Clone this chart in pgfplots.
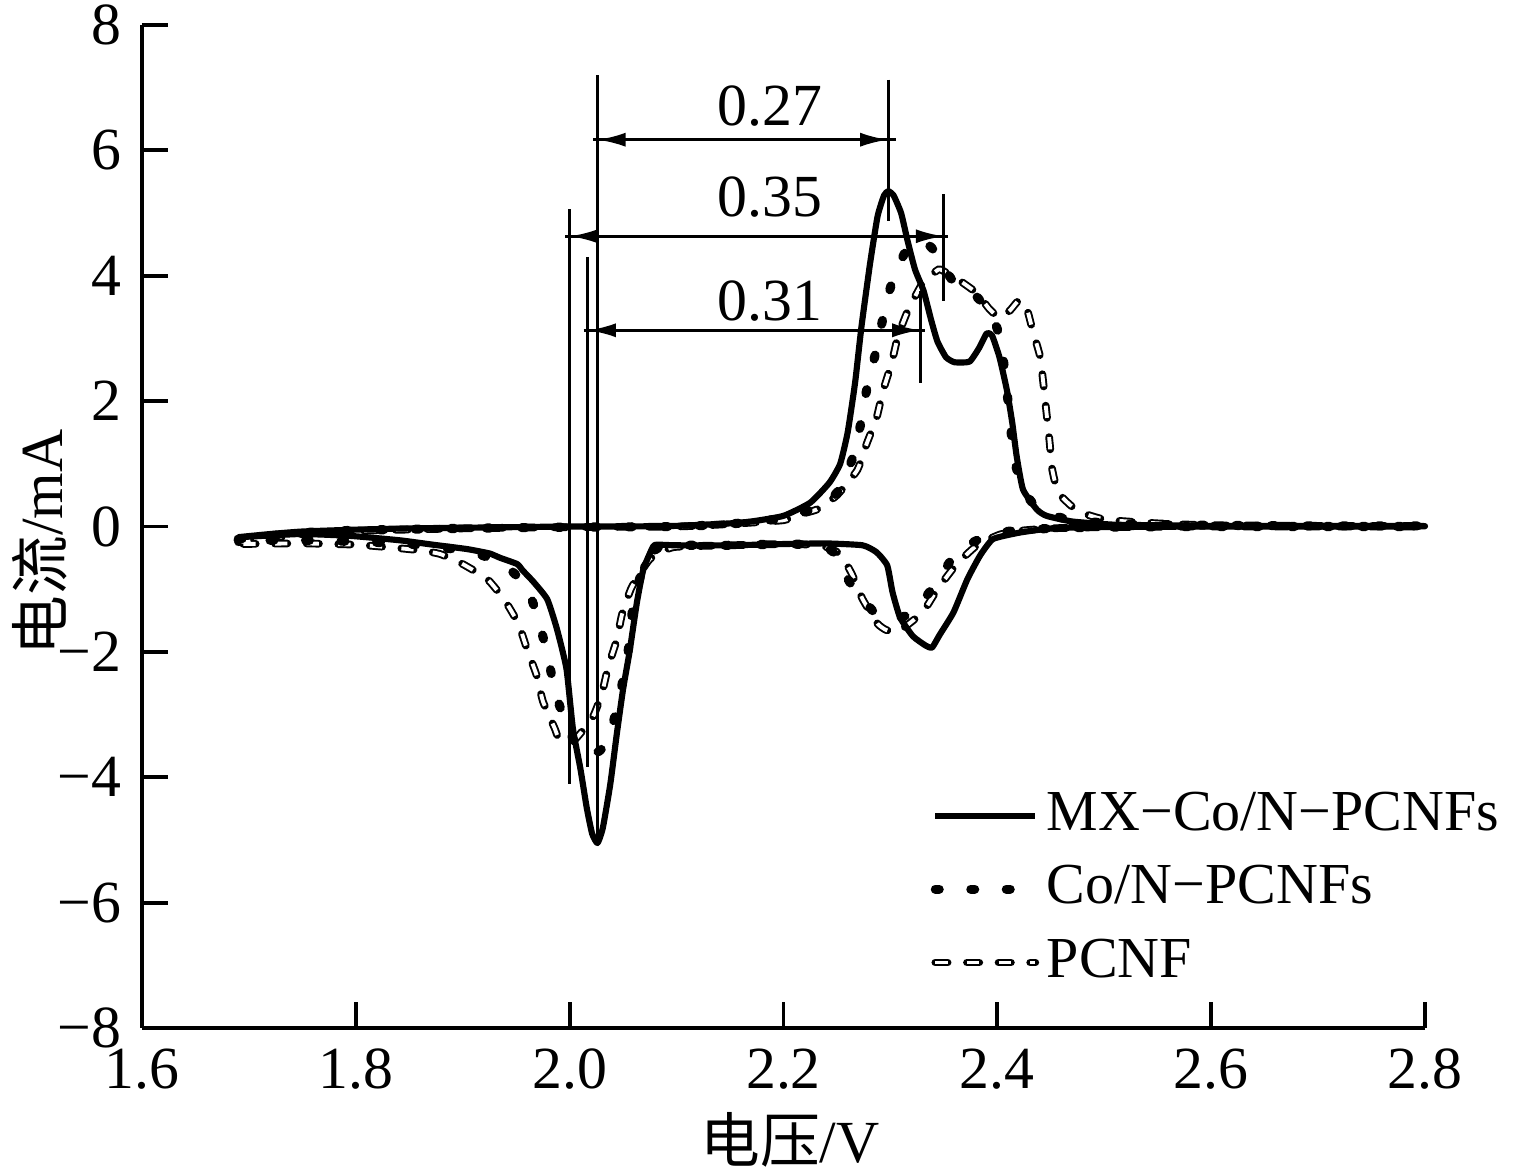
\documentclass[border=0pt]{standalone}
\usepackage{fontspec}
\setmainfont{Liberation Serif}
\newfontfamily\cjk{Noto Sans CJK SC}
\usepackage{pgfplots}
\pgfplotsset{compat=1.18}
\usetikzlibrary{arrows.meta}
\begin{document}
\fontsize{17pt}{20pt}\selectfont
\begin{tikzpicture}
\useasboundingbox (0,0) rectangle (15.35cm,11.75cm);
\begin{axis}[
  at={(1.42cm,1.47cm)}, anchor=south west,
  scale only axis, width=12.83cm, height=10.03cm,
  xmin=1.6, xmax=2.8, ymin=-8, ymax=8,
  axis x line*=bottom, axis y line*=left,
  axis line style={line width=1.1pt, -},
  tick style={line width=1.1pt, black},
  tick align=inside, major tick length=2.6mm,
  xtick={1.6,1.8,2.0,2.2,2.4,2.6,2.8},
  xticklabels={1.6,1.8,2.0,2.2,2.4,2.6,2.8},
  ytick={-8,-6,-4,-2,0,2,4,6,8},
  yticklabels={−8,−6,−4,−2,0,2,4,6,8},
  tick label style={font=\fontsize{17pt}{20pt}\selectfont},
  xlabel={{\cjk 电压}/V},
  ylabel={{\cjk 电流}/mA},
  label style={font=\fontsize{17pt}{20pt}\selectfont},
  xlabel style={at={(rel axis cs:0.505,-0.112)}, anchor=center},
  ylabel style={at={(rel axis cs:-0.0795,0.484)}, anchor=center},
  clip=false,
  reverse legend,
  legend image code/.code={\draw[#1] (0cm,0cm) -- (1.0cm,0cm);},
  legend style={at={(rel axis cs:0.606,0.25)}, anchor=north west, draw=none, fill=none,
    font=\fontsize{16.5pt}{20pt}\selectfont, row sep=1.2mm},
  legend cell align=left,
]
% PCNF (hollow dashes)
\addplot[smooth, tension=0.3, draw=white, line width=1.1pt, line cap=butt, dash pattern=on 3.5pt off 5.5pt,
  preaction={draw=black, line width=2.2pt, line cap=round, dash pattern=on 3.5pt off 5.5pt}]
 coordinates {
(1.69,-0.25)(1.75,-0.12)(1.8,-0.07)(1.9,-0.03)(2.0,-0.01)(2.1,0.0)(2.15,0.04)(2.2,0.1)
(2.209,0.17)(2.231,0.27)(2.25,0.5)(2.269,0.9)(2.278,1.33)(2.287,1.73)(2.293,2.16)(2.301,2.6)
(2.307,3.03)(2.316,3.43)(2.330,3.88)(2.345,4.1)(2.352,4.05)(2.365,3.92)(2.381,3.72)(2.392,3.48)
(2.402,3.33)(2.412,3.45)(2.421,3.62)(2.428,3.45)(2.433,3.13)(2.440,2.71)(2.443,2.29)(2.446,1.81)
(2.449,1.33)(2.451,0.94)(2.457,0.54)(2.475,0.25)(2.501,0.11)(2.55,0.05)(2.6,0.02)(2.7,0.01)(2.79,0.01)
(2.8,0.005)
(2.79,0.0)(2.7,0.0)(2.6,0.0)(2.5,-0.01)(2.45,-0.03)(2.42,-0.07)(2.402,-0.13)(2.381,-0.3)(2.362,-0.6)
(2.344,-1.0)(2.330,-1.37)(2.307,-1.68)(2.296,-1.65)(2.288,-1.55)(2.274,-1.16)(2.264,-0.76)
(2.253,-0.44)(2.235,-0.3)(2.20,-0.28)(2.15,-0.3)(2.097,-0.33)(2.075,-0.52)(2.058,-0.97)
(2.049,-1.40)(2.044,-1.81)(2.036,-2.24)(2.030,-2.67)(2.021,-3.06)(2.003,-3.43)(1.990,-3.38)
(1.986,-3.22)(1.975,-2.79)(1.969,-2.37)(1.960,-1.95)(1.952,-1.55)(1.939,-1.17)(1.923,-0.84)
(1.900,-0.6)(1.879,-0.44)(1.86,-0.38)(1.83,-0.33)(1.80,-0.29)(1.75,-0.27)(1.69,-0.28)
};
\addlegendentry{PCNF}
% Co/N-PCNFs (dots)
\addplot[smooth, tension=0.3, black, line width=2.6pt, line cap=round, dash pattern=on 1.1pt off 9pt]
 coordinates {
(1.69,-0.2)(1.75,-0.1)(1.8,-0.06)(1.9,-0.03)(2.0,-0.01)(2.1,0.0)(2.15,0.04)(2.2,0.13)
(2.225,0.27)(2.250,0.54)(2.264,1.06)(2.272,1.62)(2.278,2.2)(2.286,2.76)(2.293,3.32)(2.301,3.87)
(2.313,4.35)(2.322,4.52)(2.330,4.55)(2.340,4.42)(2.357,3.95)(2.375,3.76)(2.392,3.45)(2.400,3.15)
(2.405,2.75)(2.408,2.29)(2.412,1.7)(2.415,1.13)(2.424,0.59)(2.44,0.25)(2.47,0.1)(2.52,0.04)
(2.6,0.02)(2.7,0.01)(2.79,0.01)
(2.8,0.005)
(2.79,0.0)(2.7,0.0)(2.6,0.0)(2.5,-0.01)(2.45,-0.03)(2.42,-0.06)(2.40,-0.1)(2.386,-0.18)(2.372,-0.3)
(2.359,-0.48)(2.340,-0.97)(2.320,-1.38)(2.302,-1.48)(2.287,-1.41)(2.262,-0.89)(2.250,-0.46)
(2.235,-0.3)(2.20,-0.28)(2.15,-0.3)(2.10,-0.3)(2.085,-0.32)(2.075,-0.45)(2.066,-0.8)(2.059,-1.3)
(2.055,-1.95)(2.049,-2.52)(2.041,-3.11)(2.030,-3.55)(2.017,-3.65)(2.006,-3.48)(1.996,-3.14)
(1.986,-2.6)(1.979,-2.03)(1.970,-1.44)(1.960,-0.97)(1.945,-0.7)(1.925,-0.5)(1.90,-0.38)
(1.85,-0.28)(1.80,-0.24)(1.75,-0.22)(1.69,-0.22)
};
\addlegendentry{Co/N−PCNFs}
% MX-Co/N-PCNFs (solid)
\addplot[smooth, tension=0.3, black, line width=1.75pt, line join=round]
 coordinates {
(1.690,-0.17)(1.72,-0.12)(1.75,-0.08)(1.80,-0.05)(1.85,-0.03)(1.90,-0.02)(1.95,-0.01)(2.00,0.0)
(2.05,0.0)(2.10,0.01)(2.15,0.05)(2.17,0.08)(2.20,0.17)(2.225,0.38)(2.243,0.7)(2.253,1.0)
(2.260,1.5)(2.267,2.3)(2.273,3.2)(2.281,4.2)(2.288,4.95)(2.294,5.28)(2.298,5.35)(2.303,5.28)
(2.310,5.0)(2.316,4.56)(2.323,4.1)(2.331,3.76)(2.338,3.3)(2.344,2.95)(2.352,2.7)(2.360,2.62)
(2.374,2.63)(2.383,2.85)(2.390,3.08)(2.395,3.05)(2.402,2.7)(2.409,2.17)(2.414,1.65)(2.418,1.13)
(2.424,0.59)(2.437,0.27)(2.446,0.17)(2.47,0.08)(2.508,0.03)(2.55,0.02)(2.6,0.01)(2.7,0.01)(2.79,0.01)
(2.8,0.005)
(2.79,0.0)(2.7,0.0)(2.6,0.0)(2.5,-0.01)(2.46,-0.02)(2.440,-0.05)(2.42,-0.1)(2.396,-0.2)
(2.384,-0.46)(2.372,-0.84)(2.359,-1.37)(2.346,-1.73)(2.339,-1.93)(2.333,-1.9)(2.321,-1.75)
(2.309,-1.45)(2.302,-1.05)(2.297,-0.62)(2.287,-0.41)(2.274,-0.3)(2.24,-0.27)(2.20,-0.28)
(2.15,-0.3)(2.10,-0.3)(2.082,-0.29)(2.078,-0.32)(2.069,-0.68)(2.063,-1.2)(2.056,-2.0)
(2.050,-2.59)(2.044,-3.32)(2.038,-4.11)(2.031,-4.81)(2.026,-5.05)(2.021,-4.9)(2.016,-4.49)
(2.010,-3.86)(2.003,-3.22)(1.997,-2.27)(1.988,-1.63)(1.979,-1.16)(1.966,-0.88)(1.956,-0.7)
(1.951,-0.6)(1.935,-0.5)(1.925,-0.43)(1.904,-0.36)(1.872,-0.29)(1.841,-0.22)(1.795,-0.15)
(1.748,-0.12)(1.692,-0.17)
};
\addlegendentry{MX−Co/N−PCNFs}
% annotations
\begin{scope}[line width=0.85pt]
\draw (axis cs:2.000,5.06) -- (axis cs:2.000,-4.1);
\draw (axis cs:2.017,4.3) -- (axis cs:2.017,-3.83);
\draw (axis cs:2.026,7.2) -- (axis cs:2.026,-5.0);
\draw (axis cs:2.298,7.13) -- (axis cs:2.298,4.87);
\draw (axis cs:2.350,5.3) -- (axis cs:2.350,3.59);
\draw (axis cs:2.328,3.76) -- (axis cs:2.328,2.29);
\draw (axis cs:2.022,6.17) -- (axis cs:2.305,6.17);
\draw (axis cs:1.996,4.63) -- (axis cs:2.354,4.63);
\draw (axis cs:2.013,3.13) -- (axis cs:2.332,3.13);
\draw[{Latex[length=8pt,width=4pt]}-{Latex[length=8pt,width=4pt]}] (axis cs:2.026,6.17) -- (axis cs:2.298,6.17);
\draw[{Latex[length=8pt,width=4pt]}-{Latex[length=8pt,width=4pt]}] (axis cs:2.000,4.63) -- (axis cs:2.350,4.63);
\draw[{Latex[length=8pt,width=4pt]}-{Latex[length=8pt,width=4pt]}] (axis cs:2.017,3.13) -- (axis cs:2.328,3.13);
\end{scope}
\node[font=\fontsize{17pt}{20pt}\selectfont] at (axis cs:2.187,6.7) {0.27};
\node[font=\fontsize{17pt}{20pt}\selectfont] at (axis cs:2.187,5.25) {0.35};
\node[font=\fontsize{17pt}{20pt}\selectfont] at (axis cs:2.187,3.6) {0.31};
\end{axis}
\end{tikzpicture}
\end{document}
